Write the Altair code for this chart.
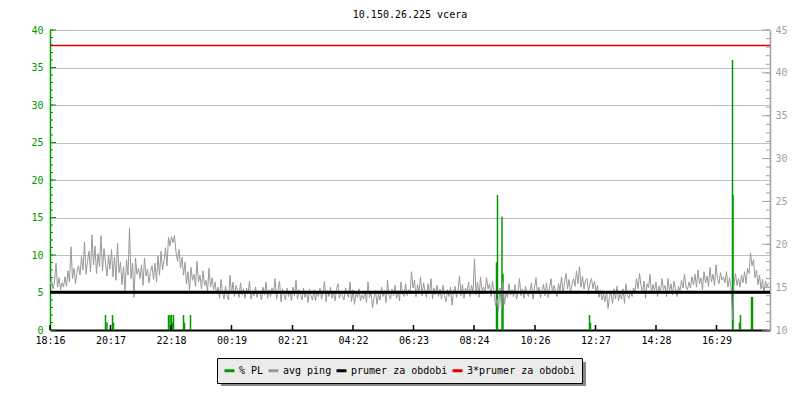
import json
import altair as alt
import pandas as pd

title_text = "10.150.26.225 vcera"

# x axis: minutes since 18:16
x_tick_minutes = [0, 121, 242, 363, 485, 606, 727, 848, 970, 1091, 1212, 1333]
x_tick_labels = ["18:16", "20:17", "22:18", "00:19", "02:21", "04:22",
                 "06:23", "08:24", "10:26", "12:27", "14:28", "16:29"]

# avg ping (ms, right axis), one sample every 3 minutes
ping_step = 3
ping_values = [
    # 18:16 - 00:16
    15.2, 16.0, 14.8, 15.6, 17.8, 15.0, 16.1, 14.7, 15.5, 15.0,
    16.2, 15.1, 16.9, 15.6, 19.7, 16.0, 17.2, 15.4, 16.8, 17.5,
    16.4, 18.6, 17.0, 20.3, 16.5, 18.0, 19.2, 16.8, 21.1, 17.6,
    19.8, 16.6, 18.9, 17.4, 21.0, 16.9, 19.5, 17.8, 16.3, 18.7,
    17.1, 19.4, 16.2, 18.5, 15.8, 20.1, 16.7, 17.9, 15.3, 17.4,
    14.6, 18.2, 16.4, 21.9, 16.0, 17.8, 13.8, 18.4, 16.5, 17.2,
    16.0, 17.6, 15.2, 18.4, 16.3, 17.1, 15.5, 16.8, 17.5, 15.9,
    17.8, 15.6, 18.6, 16.4, 19.2, 17.0, 18.1, 19.6, 17.5, 20.8,
    19.8, 20.9, 20.2, 21.0, 19.1, 18.0, 19.4, 17.2, 18.5, 16.4,
    17.9, 15.4, 16.8, 14.6, 17.3, 15.8, 16.5, 15.1, 18.0, 15.6,
    16.4, 14.8, 16.9, 15.2, 15.8, 14.5, 17.2, 15.0, 16.1, 14.7,
    15.6, 14.2, 15.0, 13.7, 15.9, 14.4, 13.6, 15.1, 14.0, 13.5,
    # 00:16 - 06:16
    16.4, 14.2, 15.6, 13.9, 15.2, 14.6, 13.8, 15.5, 14.1, 14.8,
    13.7, 14.9, 14.2, 15.7, 13.6, 14.5, 14.0, 15.0, 13.8, 14.6,
    14.3, 13.5, 15.0, 14.1, 15.6, 13.7, 14.7, 13.9, 14.9, 14.2,
    16.0, 13.6, 14.6, 15.7, 13.3, 14.8, 14.1, 13.5, 14.9, 13.9,
    14.5, 13.4, 15.0, 14.0, 15.8, 13.6, 14.7, 14.2, 13.5, 14.9,
    13.8, 14.6, 13.2, 14.8, 14.0, 13.5, 14.7, 13.4, 14.4, 13.9,
    14.9, 13.6, 14.3, 15.7, 13.3, 14.6, 13.9, 15.0, 13.7, 14.4,
    13.4, 14.8, 15.4, 13.7, 14.5, 14.0, 13.5, 14.9, 14.2, 13.8,
    15.6, 13.3, 14.7, 13.0, 14.4, 13.8, 14.8, 13.4, 14.1, 13.6,
    14.5, 13.2, 15.6, 13.8, 14.4, 12.6, 13.7, 14.6, 13.0, 14.2,
    13.5, 15.0, 13.9, 14.6, 13.2, 15.8, 14.1, 13.6, 14.8, 14.0,
    15.2, 13.7, 14.6, 13.4, 15.6, 14.3, 13.9, 15.4, 14.0, 14.7,
    # 06:16 - 12:16
    14.2, 16.8, 14.9, 15.8, 13.9, 15.3, 14.4, 16.2, 14.0, 15.5,
    14.6, 13.8, 15.4, 14.2, 16.0, 13.6, 14.9, 14.1, 15.2, 13.9,
    14.8, 13.6, 15.2, 14.0, 13.3, 14.7, 13.9, 15.0, 12.9, 14.4,
    15.1, 13.8, 14.6, 16.3, 14.0, 15.3, 13.7, 14.9, 14.2, 15.6,
    13.9, 15.2, 14.4, 18.3, 14.1, 15.6, 13.8, 16.2, 14.6, 15.0,
    14.3, 16.1, 14.8, 15.4, 13.9, 15.7, 14.5, 12.8, 13.6, 12.3,
    14.9, 12.5, 15.6, 13.0, 14.4, 13.8, 15.4, 14.1, 14.7, 13.9,
    15.3, 13.6, 14.5, 16.0, 14.0, 14.8, 13.7, 15.1, 14.3, 13.9,
    14.6, 15.5, 13.6, 14.9, 16.1, 14.2, 15.0, 13.8, 14.7, 15.3,
    14.0, 15.5, 13.8, 14.9, 16.0, 14.3, 15.2, 14.5, 13.9, 15.4,
    14.6, 16.2, 14.2, 15.5, 16.6, 14.8, 15.9, 14.4, 15.3, 16.0,
    15.1, 16.9, 15.4, 17.4, 15.0, 16.3, 14.8, 15.8, 16.0, 14.6,
    # 12:16 - 18:16
    15.4, 16.0, 14.8, 15.7, 14.5, 15.2, 13.8, 14.6, 13.5, 14.2,
    13.3, 14.5, 12.5, 13.9, 14.3, 13.1, 14.8, 13.6, 15.1, 13.4,
    14.2, 13.6, 14.8, 13.1, 15.4, 14.0, 13.7, 14.6, 13.9, 14.9,
    14.5, 16.0, 14.8, 16.6, 15.2, 14.3, 15.7, 13.7, 15.4, 14.9,
    16.5, 14.2, 15.3, 14.6, 15.6, 13.9, 15.1, 14.4, 16.0, 14.7,
    15.2, 13.9, 16.0, 14.5, 15.4, 14.1, 15.7, 14.8, 13.9, 15.1,
    14.6, 15.8, 14.9, 16.5, 15.0, 14.7, 15.6, 14.9, 16.2, 15.3,
    16.5, 15.0, 17.0, 15.4, 16.1, 14.7, 16.8, 15.5, 16.3, 15.1,
    17.3, 15.6, 16.5, 15.2, 17.6, 16.0, 15.4, 16.7, 15.8, 16.2,
    15.5, 16.8, 15.0, 16.1, 14.9, 11.2, 15.3, 16.6, 15.2, 16.0,
    15.0, 16.4, 15.5, 16.8, 15.4, 17.2, 16.6, 19.0, 17.5, 18.2,
    16.1, 17.0, 15.3, 16.4, 14.8, 15.9, 14.3, 15.7, 15.1, 15.5,
]

# % packet loss (left axis)
pl_minutes = [111, 114, 125, 127, 237, 240, 243, 245, 247, 267, 269, 281,
              893, 895, 904, 906, 1079, 1081, 1365, 1366, 1379, 1381, 1403, 1405]
pl_values = [2.0, 1.0, 2.0, 1.0, 2.0, 2.0, 2.0, 1.0, 2.0, 2.0, 1.0, 2.0,
             9.0, 18.0, 15.1, 7.5, 2.0, 1.0, 36.0, 18.0, 1.0, 2.0, 4.4, 4.4]

prumer = [14.4]
prumer3 = [43.2]

series_names = ["% PL", "avg ping", "prumer za obdobi", "3*prumer za obdobi"]
GREEN = "#009900"
GRAY = "#999999"
series_colors = [GREEN, GRAY, "#000000", "#dd0000"]

MONO = "DejaVu Sans Mono"
W, H = 720, 300

cscale = alt.Scale(domain=series_names, range=series_colors)
legend = alt.Legend(
    title=None, orient="none", legendX=167, legendY=328, direction="horizontal",
    fillColor="#ebebeb", strokeColor="#000000", padding=6, cornerRadius=0,
    symbolType="stroke", symbolStrokeWidth=3, symbolSize=100,
    labelFont=MONO, labelFontSize=10, labelColor="#000000",
    columnPadding=-2, labelOffset=3,
)


def color_enc():
    return alt.Color("s:N", scale=cscale, legend=legend)


label_expr = f"{json.dumps(x_tick_labels)}[indexof({json.dumps(x_tick_minutes)}, datum.value)]"
xscale = alt.Scale(domain=[0, 1440], nice=False, zero=False)
xaxis = alt.Axis(values=x_tick_minutes, labelExpr=label_expr, title=None, ticks=False,
                 grid=False, domainColor="#000000", domainWidth=2, labelColor="#000000",
                 labelPadding=5, labelFont=MONO, labelFontSize=10, labelFlush=False)


def xenc(field="t"):
    return alt.X(f"{field}:Q", scale=xscale, axis=xaxis)


lscale = alt.Scale(domain=[0, 40], nice=False, zero=True)
laxis = alt.Axis(values=list(range(0, 41, 5)), title=None, ticks=False, grid=True,
                 gridColor="#c0c0c0", gridWidth=1, domainColor=GREEN, domainWidth=1.5,
                 labelColor=GREEN, labelPadding=7, labelFont=MONO, labelFontSize=10)
rscale = alt.Scale(domain=[10, 45], nice=False, zero=False)
raxis = alt.Axis(orient="right", values=list(range(10, 46, 5)), title=None, ticks=False,
                 grid=False, domainColor="#a0a0a0", domainWidth=1.5, labelColor="#a0a0a0",
                 labelPadding=5, labelFont=MONO, labelFontSize=10)

pl_df = pd.DataFrame({"t": pl_minutes, "pl": pl_values})
ping_df = pd.DataFrame({"t": [i * ping_step for i in range(len(ping_values))],
                        "ping": ping_values})

green = alt.Chart(pl_df).transform_calculate(s="'% PL'", zero="0").mark_rule(
    strokeWidth=1.5).encode(
    x=xenc(), y=alt.Y("pl:Q", scale=lscale, axis=laxis), y2="zero:Q", color=color_enc())

lminor = alt.Chart(pd.DataFrame({"v": list(range(0, 41))})).mark_rule(
    color=GREEN, strokeWidth=1).encode(
    y=alt.Y("v:Q", scale=lscale, axis=laxis), x=alt.value(0), x2=alt.value(3))
lmajor = alt.Chart(pd.DataFrame({"v": list(range(0, 41, 5))})).mark_rule(
    color=GREEN, strokeWidth=1).encode(
    y=alt.Y("v:Q", scale=lscale, axis=laxis), x=alt.value(0), x2=alt.value(6))
xticks = alt.Chart(pd.DataFrame({"t": x_tick_minutes})).mark_rule(
    color="#000000", strokeWidth=1.5).encode(
    x=xenc(), y=alt.value(H), y2=alt.value(H - 5))
shadow = alt.Chart(pd.DataFrame({"a": [0]})).mark_rect(color="#888888").encode(
    x=alt.value(171), x2=alt.value(536), y=alt.value(332), y2=alt.value(356))

left = alt.layer(green, lminor, lmajor, xticks, shadow)

gray = alt.Chart(ping_df).transform_calculate(s="'avg ping'").mark_line(
    strokeWidth=1).encode(
    x=xenc(), y=alt.Y("ping:Q", scale=rscale, axis=raxis), color=color_enc())
black = alt.Chart(pd.DataFrame({"v": prumer})).transform_calculate(
    s="'prumer za obdobi'").mark_rule(strokeWidth=3).encode(
    y=alt.Y("v:Q", scale=rscale, axis=raxis), color=color_enc())
red = alt.Chart(pd.DataFrame({"v": prumer3})).transform_calculate(
    s="'3*prumer za obdobi'").mark_rule(strokeWidth=1.5).encode(
    y=alt.Y("v:Q", scale=rscale, axis=raxis), color=color_enc())
rminor = alt.Chart(pd.DataFrame({"v": list(range(10, 46))})).mark_rule(
    color="#a0a0a0", strokeWidth=1).encode(
    y=alt.Y("v:Q", scale=rscale, axis=raxis), x=alt.value(W - 4), x2=alt.value(W))
rmajor = alt.Chart(pd.DataFrame({"v": list(range(10, 46, 5))})).mark_rule(
    color="#a0a0a0", strokeWidth=1).encode(
    y=alt.Y("v:Q", scale=rscale, axis=raxis), x=alt.value(W - 8), x2=alt.value(W))

right = alt.layer(gray, black, red, rminor, rmajor)

chart = alt.layer(left, right).resolve_scale(y="independent").properties(
    width=W, height=H,
    autosize="none",
    padding={"left": 42, "top": 22, "right": 22, "bottom": 60},
    title=alt.TitleParams(title_text, font=MONO, fontSize=10, fontWeight="normal",
                          color="#000000", anchor="middle", offset=5),
).configure_view(strokeWidth=0)

chart.save("out.html", embed_options={"renderer": "svg", "actions": False})
